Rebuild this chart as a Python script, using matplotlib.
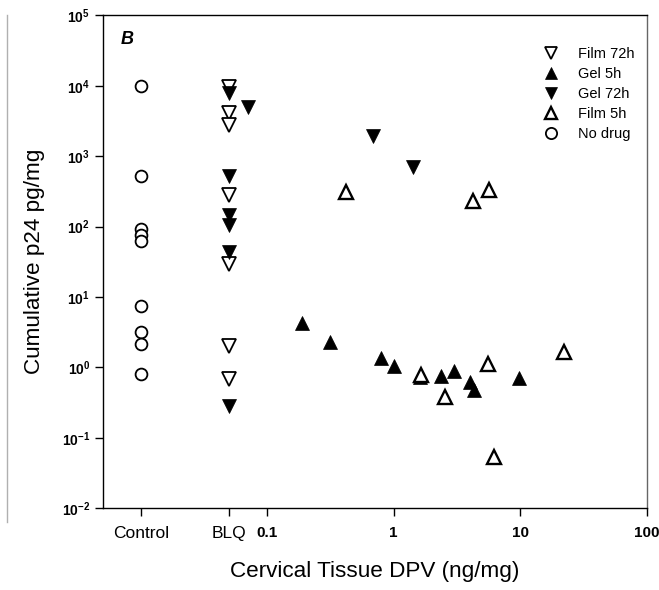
import matplotlib
matplotlib.use("Agg")
import matplotlib.pyplot as plt
from matplotlib.lines import Line2D

plt.rcParams['font.family'] = ['Liberation Sans', 'DejaVu Sans']
plt.rcParams['mathtext.fontset'] = 'custom'
plt.rcParams['mathtext.rm'] = 'Liberation Sans'
plt.rcParams['mathtext.bf'] = 'Liberation Sans:bold'

# ---- data ----
control_pos = 0.01
blq_pos = 0.05

nodrug_y = [10000, 516, 92, 75, 62, 7.35, 3.18, 2.17, 0.82]

film72_x = [0.05, 0.05, 0.05, 0.05, 0.05, 0.05, 0.05]
film72_y = [9500, 4150, 2800, 284, 29, 2.0, 0.69]

gel72_x = [0.05, 0.05, 0.05, 0.05, 0.05, 0.05, 0.070, 0.69, 1.41]
gel72_y = [8000, 527, 147, 106, 43, 0.28, 5000, 1910, 692]

gel5_x = [0.19, 0.315, 0.79, 1.0, 1.62, 2.37, 2.97, 3.98, 4.35, 9.7]
gel5_y = [4.27, 2.27, 1.34, 1.06, 0.73, 0.76, 0.88, 0.63, 0.48, 0.71]

film5_x = [0.42, 4.22, 5.65, 1.65, 2.55, 5.55, 6.16, 22.1]
film5_y = [306, 233, 326, 0.77, 0.38, 1.12, 0.053, 1.66]

xtick_vals = [0.01, 0.05, 0.1, 1, 10, 100]
xtick_labels = ['Control', 'BLQ', '0.1', '1', '10', '100']
ytick_vals = [1e-2, 1e-1, 1e0, 1e1, 1e2, 1e3, 1e4, 1e5]
ytick_labels = [r'$\mathbf{10^{-2}}$', r'$\mathbf{10^{-1}}$', r'$\mathbf{10^{0}}$',
                r'$\mathbf{10^{1}}$', r'$\mathbf{10^{2}}$', r'$\mathbf{10^{3}}$',
                r'$\mathbf{10^{4}}$', r'$\mathbf{10^{5}}$']

fig = plt.figure(figsize=(6.59, 5.90), dpi=100)
ax = fig.add_axes([0.1558, 0.1385, 0.8255, 0.8355])

ms = 9.5
lw_open = 1.3
ax.plot(film72_x, film72_y, linestyle='none', marker='v', ms=ms, mfc='white',
        mec='black', mew=lw_open, label='Film 72h')
ax.plot(gel5_x, gel5_y, linestyle='none', marker='^', ms=ms, mfc='black',
        mec='black', mew=0.5, label='Gel 5h')
ax.plot(gel72_x, gel72_y, linestyle='none', marker='v', ms=ms, mfc='black',
        mec='black', mew=0.5, label='Gel 72h')
ax.plot(film5_x, film5_y, linestyle='none', marker='^', ms=ms, mfc='white',
        mec='black', mew=lw_open + 0.4, label='Film 5h')
ax.plot([control_pos] * len(nodrug_y), nodrug_y, linestyle='none', marker='o',
        ms=8.5, mfc='white', mec='black', mew=lw_open, label='No drug')

ax.set_xscale('log')
ax.set_yscale('log')
ax.set_xlim(0.005, 100)
ax.set_ylim(1e-2, 1e5)

ax.set_xticks(xtick_vals)
ax.set_xticklabels(xtick_labels)
ax.xaxis.set_minor_locator(matplotlib.ticker.NullLocator())
ax.set_yticks(ytick_vals)
ax.set_yticklabels(ytick_labels)
ax.yaxis.set_minor_locator(matplotlib.ticker.NullLocator())

for lbl in ax.get_xticklabels():
    if lbl.get_text() in ('Control', 'BLQ'):
        lbl.set_fontsize(12.5)
    else:
        lbl.set_fontsize(11)
        lbl.set_fontweight('bold')
for lbl in ax.get_yticklabels():
    lbl.set_fontsize(10)

ax.tick_params(axis='both', which='major', direction='out', length=6, width=1.0,
               color='black', labelcolor='black')
ax.tick_params(axis='x', pad=7)
ax.tick_params(axis='y', pad=3)

for side in ['left', 'bottom', 'top']:
    ax.spines[side].set_linewidth(1.0)
    ax.spines[side].set_color('black')
ax.spines['right'].set_linewidth(1.0)
ax.spines['right'].set_color('#666666')

ax.set_xlabel('Cervical Tissue DPV (ng/mg)', fontsize=16.2, labelpad=14)
ax.set_ylabel('Cumulative p24 pg/mg', fontsize=16.2, labelpad=12)

ax.text(0.034, 0.95, 'B', transform=ax.transAxes, fontsize=13,
        fontweight='bold', fontstyle='italic', ha='left', va='center')

leg = ax.legend(loc='upper left', bbox_to_anchor=(0.81, 0.935), frameon=False,
                fontsize=10.5, handlelength=1.0, handletextpad=1.35,
                labelspacing=0.4, borderpad=0, borderaxespad=0, markerscale=0.95)

fig.add_artist(Line2D([7 / 659, 7 / 659], [1 - 15 / 590, 1 - 522 / 590],
                      transform=fig.transFigure, color='#b0b0b0', linewidth=1.0))

fig.savefig('out.png', dpi=100)
